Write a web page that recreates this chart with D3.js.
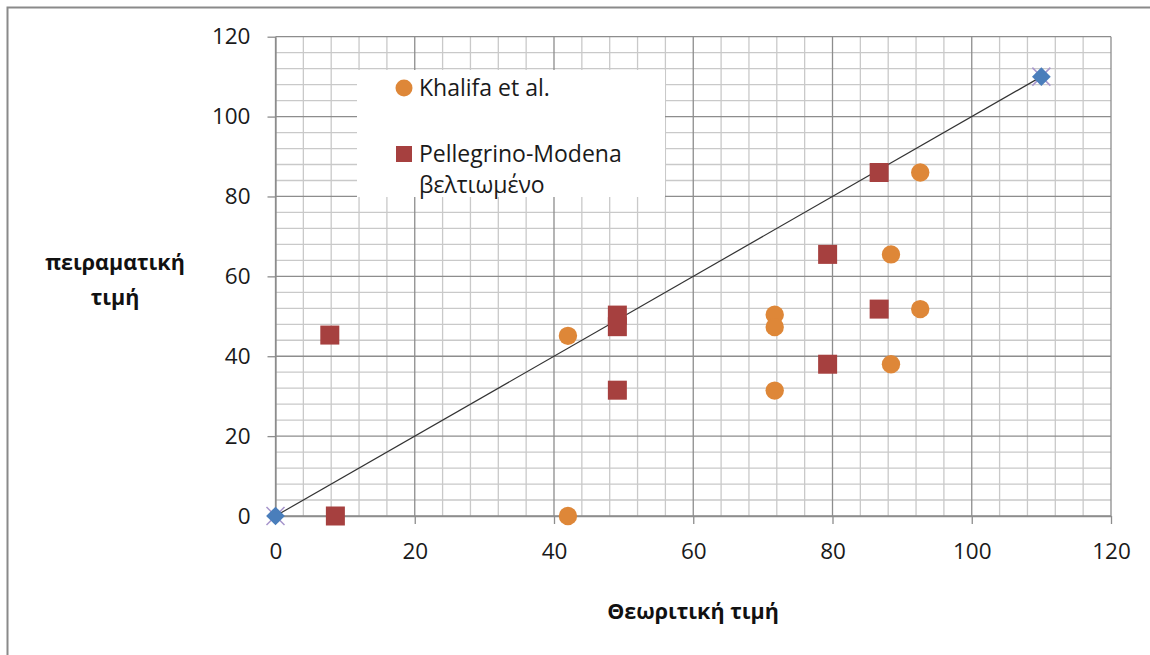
<html lang="el">
<head>
  <meta charset="utf-8"/>
  <title>πειραματική / θεωρητική τιμή</title>
  <script src="https://d3js.org/d3.v7.min.js"></script>
  <style>
  body { margin: 0; background: #fff; }
  * { font-family: "Open Sans", sans-serif; }
  .minor { stroke: #c9c9c9; stroke-width: 1.3px; }
  .major { stroke: #8d8d8d; stroke-width: 1.3px; }
  .tick-label { font-size: 22.5px; fill: #1a1a1a; }
  .axis-title { font-size: 21.5px; font-weight: bold; fill: #111; }
  .legend-text { font-size: 23px; fill: #1a1a1a; }
  </style>
</head>
<body>
  <svg id="chart" width="1150" height="655"></svg>
  <script>
    // data
    const khalifaX = [42, 42, 71.7, 71.7, 71.7, 88.4, 88.4, 92.6, 92.6];
    const khalifaY = [0, 45.1, 50.4, 47.3, 31.4, 65.5, 38, 86, 51.8];
    const pellegrinoX = [8.6, 7.8, 49.1, 49.1, 49.1, 79.3, 79.3, 86.7, 86.7];
    const pellegrinoY = [0, 45.3, 50.3, 47.4, 31.5, 65.5, 38, 86, 51.8];
    const refX = [0, 110];
    const refY = [0, 110];
    const ticks = [0, 20, 40, 60, 80, 100, 120];
    const legendNames = ["Khalifa et al.", "Pellegrino-Modena", "βελτιωμένο"];

    const svg = d3.select("#chart");
    const x = d3.scaleLinear().domain([0, 120]).range([275.5, 1111]);
    const y = d3.scaleLinear().domain([0, 120]).range([516, 36.7]);

    // outer chart border (only left/top visible)
    svg.append("rect").attr("x", 7.5).attr("y", 7.5).attr("width", 1160).attr("height", 700)
      .attr("fill", "none").attr("stroke", "#8a8a8a").attr("stroke-width", 2);

    const grid = svg.append("g");
    const minor = d3.range(0, 121, 4).filter(d => d % 20 !== 0);
    grid.selectAll("line.vx").data(minor).join("line").attr("class", "minor")
      .attr("x1", d => x(d)).attr("x2", d => x(d))
      .attr("y1", y(0)).attr("y2", y(120));
    grid.selectAll("line.hy").data(minor).join("line").attr("class", "minor")
      .attr("x1", x(0)).attr("x2", x(120))
      .attr("y1", d => y(d)).attr("y2", d => y(d));
    grid.selectAll("line.mx").data(ticks).join("line").attr("class", "major")
      .attr("x1", d => x(d)).attr("x2", d => x(d)).attr("y1", y(0)).attr("y2", y(120));
    grid.selectAll("line.my").data(ticks).join("line").attr("class", "major")
      .attr("x1", x(0)).attr("x2", x(120)).attr("y1", d => y(d)).attr("y2", d => y(d));

    // axes with outside ticks
    const xAxis = svg.append("g").attr("transform", "translate(0," + y(0) + ")")
      .call(d3.axisBottom(x).tickValues(ticks).tickSize(8).tickSizeOuter(0).tickPadding(17));
    const yAxis = svg.append("g").attr("transform", "translate(" + x(0) + ",0)")
      .call(d3.axisLeft(y).tickValues(ticks).tickSize(8).tickSizeOuter(0).tickPadding(17));
    [xAxis, yAxis].forEach(a => {
      a.select(".domain").attr("stroke", "#8d8d8d").attr("stroke-width", 1.3);
      a.selectAll(".tick line").attr("stroke", "#8d8d8d").attr("stroke-width", 1.3);
      a.selectAll(".tick text").attr("class", "tick-label").attr("font-family", null).attr("font-size", null);
    });
    xAxis.selectAll(".tick text").attr("dy", "0.8em");

    // legend box (white, covers grid)
    const legend = svg.append("g");
    legend.append("rect").attr("x", 357).attr("y", 70).attr("width", 308).attr("height", 127).attr("fill", "#fff");

    // reference line
    svg.append("line")
      .attr("x1", x(refX[0])).attr("y1", y(refY[0]))
      .attr("x2", x(refX[1])).attr("y2", y(refY[1]))
      .attr("stroke", "#333").attr("stroke-width", 1.2);

    // reference points: purple x behind blue diamond
    const refPts = refX.map((d, i) => [d, refY[i]]);
    const refG = svg.append("g");
    refG.selectAll("path.cross").data(refPts).join("path")
      .attr("d", d => {
        const cx = x(d[0]), cy = y(d[1]), s = 9;
        return "M" + (cx - s) + "," + (cy - s) + "L" + (cx + s) + "," + (cy + s) +
               "M" + (cx - s) + "," + (cy + s) + "L" + (cx + s) + "," + (cy - s);
      })
      .attr("stroke", "#a796cc").attr("stroke-width", 1.5).attr("fill", "none");
    refG.selectAll("path.diamond").data(refPts).join("path")
      .attr("transform", d => "translate(" + x(d[0]) + "," + y(d[1]) + ") rotate(45)")
      .attr("d", d3.symbol().type(d3.symbolSquare).size(175))
      .attr("fill", "#4a7ebb");

    // series
    const khalifa = khalifaX.map((d, i) => [d, khalifaY[i]]);
    const pellegrino = pellegrinoX.map((d, i) => [d, pellegrinoY[i]]);

    svg.append("g").selectAll("circle").data(khalifa).join("circle")
      .attr("cx", d => x(d[0])).attr("cy", d => y(d[1])).attr("r", 9.2)
      .attr("fill", "#de8738");

    svg.append("g").selectAll("rect").data(pellegrino).join("rect")
      .attr("x", d => x(d[0]) - 9.5).attr("y", d => y(d[1]) - 9.5)
      .attr("width", 19).attr("height", 19)
      .attr("fill", "#a6403f");

    // legend entries
    legend.append("circle").attr("cx", 404).attr("cy", 88).attr("r", 8.5).attr("fill", "#de8738");
    legend.append("text").attr("class", "legend-text").attr("x", 419).attr("y", 96).text(legendNames[0]);
    legend.append("rect").attr("x", 396).attr("y", 146).attr("width", 16).attr("height", 16).attr("fill", "#a6403f");
    legend.append("text").attr("class", "legend-text").attr("x", 419).attr("y", 162).text(legendNames[1]);
    legend.append("text").attr("class", "legend-text").attr("x", 419).attr("y", 193).text(legendNames[2]);

    // axis titles
    svg.append("text").attr("class", "axis-title").attr("x", 693).attr("y", 619)
      .attr("text-anchor", "middle").text("Θεωριτική τιμή");
    const yt = svg.append("text").attr("class", "axis-title").attr("text-anchor", "middle");
    yt.append("tspan").attr("x", 115).attr("y", 270).text("πειραματική");
    yt.append("tspan").attr("x", 115).attr("y", 305).text("τιμή");
  </script>
</body>
</html>
